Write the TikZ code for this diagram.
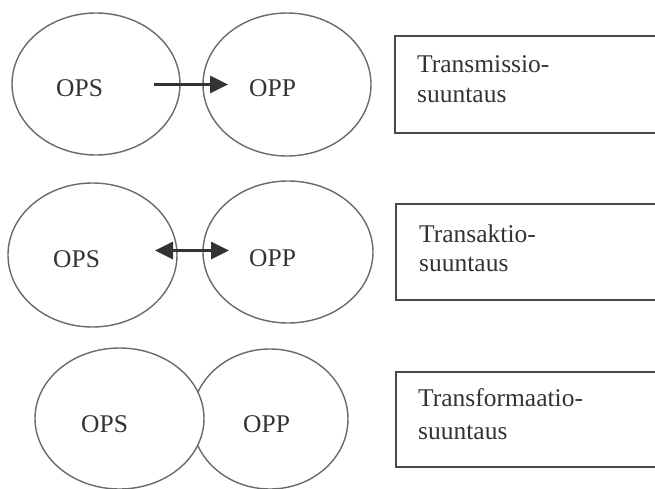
\documentclass[tikz,border=0pt]{standalone}
\usepackage{fontspec}
\setmainfont{Liberation Serif}
\usetikzlibrary{shapes.geometric,arrows.meta}

\definecolor{ringgray}{HTML}{6A6A6A}
\definecolor{inkgray}{HTML}{333333}
\definecolor{framegray}{HTML}{4A4A4A}

\tikzset{
  ring/.style={draw=ringgray, line width=1.4pt, ellipse, inner sep=0pt},
  party/.style={anchor=base west, inner sep=0pt, text=inkgray, font=\fontsize{25.5}{30}\selectfont},
  caption/.style={anchor=base west, inner sep=0pt, text=inkgray, font=\fontsize{25.5}{30}\selectfont},
  frame/.style={draw=framegray, line width=2pt},
  headtip/.style={Triangle[length=18pt,width=17pt]},
  flow/.style={draw=inkgray, line width=3.4pt, -{Triangle[length=18pt,width=17pt]}},
  twoway/.style={draw=inkgray, line width=3.4pt, {Triangle[length=18pt,width=17pt]}-{Triangle[length=18pt,width=17pt]}},
}

\begin{document}
\begin{tikzpicture}[x=1pt, y=-1pt]
  \useasboundingbox (0,0) rectangle (655,489);
  \fill[white] (0,0) rectangle (655,489);

  % ---------- Transmission ----------
  \node[ring, minimum width=168pt, minimum height=142pt] (s1) at (96,84) {};
  \node[ring, minimum width=168pt, minimum height=143pt] (p1) at (287,84.5) {};
  \node[party] (ops1) at (56,97) {OPS};
  \node[party] (opp1) at (249,97) {OPP};
  \coordinate (a1from) at (154,84.5);
  \coordinate (a1to) at (228,84.5);
  \draw[flow] (a1from) -- (a1to);

  % ---------- Transaction ----------
  \node[ring, minimum width=169pt, minimum height=144pt] (s2) at (92.5,255) {};
  \node[ring, minimum width=170pt, minimum height=142pt] (p2) at (288,252) {};
  \node[party] (ops2) at (53,267) {OPS};
  \node[party] (opp2) at (249,266) {OPP};
  \coordinate (a2from) at (155,250.5);
  \coordinate (a2to) at (229,250.5);
  \draw[twoway] (a2from) -- (a2to);

  % ---------- Transformation (overlapping circles) ----------
  \node[ring, minimum width=156pt, minimum height=140pt] (p3) at (270,419) {};
  \node[ring, fill=white, minimum width=169pt, minimum height=141pt] (s3) at (119.5,418.5) {};
  \node[party] (ops3) at (81,432) {OPS};
  \node[party] (opp3) at (243,432) {OPP};

  % ---------- caption boxes (open to the right edge) ----------
  \begin{scope}
    \clip (0,0) rectangle (655,489);
    \draw[frame] (395,36) rectangle (670,133);
    \draw[frame] (396,204) rectangle (670,300);
    \draw[frame] (396,372) rectangle (670,467);
  \end{scope}

  \node[caption] (c1a) at (417,73) {Transmissio-};
  \node[caption] (c1b) at (417,103) {suuntaus};
  \node[caption] (c2a) at (419,242) {Transaktio-};
  \node[caption] (c2b) at (419,271) {suuntaus};
  \node[caption] (c3a) at (418,406) {Transformaatio-};
  \node[caption] (c3b) at (418,439) {suuntaus};
\end{tikzpicture}
\end{document}
